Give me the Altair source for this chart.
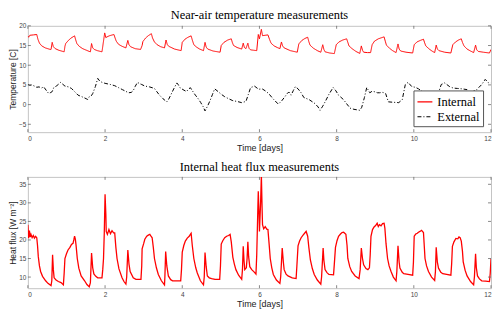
import altair as alt
import pandas as pd

# ---------------- data ----------------
days_int = [0.00, 0.02, 0.05, 0.15, 0.23, 0.26, 0.30, 0.36, 0.45, 0.58, 0.60, 0.63, 0.66, 0.71, 0.80, 0.94,
            0.96, 0.98, 1.05, 1.12, 1.21, 1.24, 1.27, 1.33, 1.42, 1.59, 1.62, 1.65, 1.68, 1.72, 1.80, 1.92,
            1.99, 2.02, 2.05, 2.12, 2.23, 2.26, 2.29, 2.35, 2.44, 2.54, 2.59, 2.62, 2.66, 2.78, 2.92,
            2.96, 2.98, 3.05, 3.12, 3.20, 3.23, 3.28, 3.35, 3.44, 3.54, 3.58, 3.61, 3.65, 3.80, 3.97,
            4.00, 4.07, 4.15, 4.23, 4.26, 4.30, 4.37, 4.45, 4.55, 4.59, 4.62, 4.66, 4.80, 4.98,
            5.01, 5.08, 5.18, 5.27, 5.30, 5.33, 5.42, 5.54, 5.58, 5.61, 5.65, 5.70, 5.73, 5.77, 5.85, 5.93,
            5.97, 6.00, 6.05, 6.08, 6.15, 6.22, 6.26, 6.30, 6.38, 6.46, 6.53, 6.57, 6.60, 6.64, 6.80, 6.98,
            7.02, 7.10, 7.18, 7.25, 7.28, 7.31, 7.40, 7.50, 7.59, 7.64, 7.67, 7.70, 7.82, 7.94,
            7.99, 8.06, 8.16, 8.26, 8.29, 8.32, 8.40, 8.50, 8.60, 8.64, 8.67, 8.70, 8.80, 8.88,
            8.92, 8.98, 9.08, 9.23, 9.26, 9.29, 9.37, 9.45, 9.54, 9.59, 9.62, 9.66, 9.80, 9.97,
            10.01, 10.08, 10.17, 10.25, 10.28, 10.31, 10.40, 10.47, 10.54, 10.58, 10.61, 10.65, 10.80, 10.96,
            11.01, 11.08, 11.16, 11.23, 11.26, 11.30, 11.38, 11.47, 11.55, 11.60, 11.63, 11.67, 11.80, 11.96,
            12.00]
temp_int = [17.4, 17.1, 17.6, 17.7, 17.8, 16.6, 15.6, 14.9, 14.4, 14.0, 14.0, 15.8, 14.7, 14.2, 13.8, 13.4,
            14.8, 15.5, 16.3, 16.9, 17.45, 16.4, 15.5, 14.8, 14.2, 13.5, 13.4, 15.5, 14.4, 14.0, 13.7, 13.4,
            18.2, 17.0, 17.2, 17.5, 17.8, 16.9, 16.1, 15.3, 14.8, 14.4, 16.3, 15.2, 14.7, 14.2, 14.0,
            15.0, 16.0, 16.9, 17.5, 18.0, 16.9, 15.9, 15.2, 14.7, 14.4, 16.4, 15.3, 14.8, 14.1, 13.7,
            15.8, 16.6, 17.1, 17.45, 16.4, 15.2, 14.6, 14.1, 13.7, 15.8, 14.6, 14.1, 13.6, 13.3,
            15.0, 15.8, 16.4, 16.7, 15.7, 15.0, 14.5, 14.1, 15.6, 14.5, 14.2, 15.6, 14.3, 13.9, 13.8, 13.7,
            17.8, 16.7, 19.1, 17.5, 17.6, 17.7, 16.6, 15.6, 14.9, 14.5, 14.2, 15.9, 14.9, 14.4, 13.7, 13.3,
            15.4, 16.3, 16.8, 17.1, 16.0, 15.1, 14.3, 13.7, 13.3, 15.2, 14.0, 13.4, 13.1, 12.95,
            15.2, 15.9, 16.4, 16.7, 15.8, 14.9, 14.2, 13.5, 13.0, 14.9, 13.8, 13.3, 13.2, 13.2,
            15.2, 16.1, 16.7, 17.2, 16.1, 15.1, 14.3, 13.7, 13.2, 15.4, 14.1, 13.6, 13.3, 13.1,
            15.2, 15.9, 16.3, 16.6, 15.7, 14.9, 14.1, 13.6, 13.2, 15.1, 14.1, 13.7, 13.3, 13.1,
            15.2, 15.9, 16.4, 16.7, 15.8, 14.9, 14.1, 13.6, 13.2, 15.1, 13.9, 13.5, 13.3, 13.1,
            14.0]

days_ext = [0.00, 0.05, 0.10, 0.17, 0.23, 0.29, 0.35, 0.41, 0.47, 0.54, 0.58, 0.63, 0.67, 0.75, 0.85, 0.90,
            0.96, 1.05, 1.13, 1.20, 1.30, 1.40, 1.51, 1.55, 1.59, 1.64, 1.68, 1.75, 1.81, 1.86, 1.92, 2.00,
            2.14, 2.25, 2.35, 2.45, 2.61, 2.68, 2.73, 2.78, 2.84, 2.90, 2.95, 3.03, 3.15, 3.28, 3.34, 3.41,
            3.50, 3.60, 3.65, 3.70, 3.78, 3.86, 3.90, 3.94, 4.02, 4.11, 4.16, 4.21, 4.27, 4.34, 4.42, 4.48,
            4.54, 4.59, 4.66, 4.72, 4.78, 4.84, 4.93, 5.00, 5.10, 5.20, 5.31, 5.42, 5.54, 5.65, 5.71, 5.77,
            5.87, 5.98, 6.07, 6.15, 6.24, 6.35, 6.49, 6.58, 6.66, 6.72, 6.76, 6.82, 6.88, 6.93, 7.00, 7.08,
            7.15, 7.29, 7.44, 7.52, 7.57, 7.64, 7.71, 7.80, 7.91, 7.98, 8.05, 8.18, 8.26, 8.35, 8.45, 8.60,
            8.65, 8.72, 8.78, 8.86, 8.92, 8.97, 9.06, 9.11, 9.20, 9.27, 9.34, 9.45, 9.61, 9.70, 9.78, 9.85,
            9.95, 10.04, 10.12, 10.20, 10.29, 10.40, 10.50, 10.62, 10.71, 10.80, 10.93, 11.02, 11.13, 11.25,
            11.38, 11.46, 11.55, 11.63, 11.76, 11.85, 11.94, 12.00]
temp_ext = [5.1, 4.9, 5.0, 4.7, 4.4, 4.5, 4.2, 4.5, 3.7, 2.8, 3.0, 3.3, 4.3, 4.8, 5.65, 5.2,
            4.7, 4.5, 4.1, 3.4, 2.4, 2.0, 1.5, 1.3, 2.0, 2.2, 2.8, 4.6, 6.65, 6.0, 5.65, 5.4,
            5.1, 4.8, 4.3, 3.8, 3.0, 3.1, 3.55, 4.6, 5.65, 5.3, 5.1, 4.7, 4.5, 4.1, 3.3, 2.4,
            1.5, 0.7, 1.4, 2.4, 4.0, 5.5, 5.0, 4.3, 3.8, 3.3, 3.9, 4.3, 3.4, 2.4, 1.4, 0.5,
            -0.5, -1.6, -0.3, 1.0, 2.5, 4.0, 3.3, 2.7, 2.0, 1.5, 1.0, 0.8, 0.5, 0.8, 2.5, 4.3,
            4.7, 3.9, 4.0, 3.5, 2.8, 1.5, 0.1, 1.0, 2.0, 2.8, 3.2, 2.4, 3.6, 4.55, 4.0, 3.0,
            1.8, 1.25, 0.25, -0.6, -1.45, -0.4, 0.85, 2.6, 4.35, 3.5, 2.4, 1.25, 0.2, -0.9, -1.2, -1.45,
            -0.7, 1.8, 4.35, 3.0, 3.4, 3.3, 3.0, 3.0, 3.1, 2.8, 0.7, 0.6, 0.5, 1.25, 5.1, 5.65,
            4.55, 4.4, 4.0, 3.5, 2.8, 1.3, 1.6, 2.4, 5.1, 5.5, 4.55, 4.2, 4.1, 4.0,
            3.8, 3.0, 3.4, 3.8, 5.1, 6.4, 5.5, 5.5]

days_flux = [0.00, 0.02, 0.04, 0.06, 0.08, 0.11, 0.14, 0.17, 0.20, 0.23, 0.25, 0.27, 0.30, 0.33, 0.38, 0.46,
             0.52, 0.60, 0.62, 0.64, 0.66, 0.68, 0.73, 0.79, 0.86, 0.92, 0.94, 0.96, 1.00, 1.04, 1.09, 1.13,
             1.17, 1.19, 1.21, 1.23, 1.25, 1.28, 1.32, 1.38, 1.47, 1.53, 1.59, 1.62, 1.65, 1.68, 1.71, 1.76,
             1.81, 1.92, 1.94, 1.96, 1.98, 2.00, 2.02, 2.03, 2.06, 2.10, 2.14, 2.18, 2.22, 2.25, 2.28, 2.31,
             2.36, 2.44, 2.49, 2.54, 2.56, 2.59, 2.62, 2.65, 2.73, 2.80, 2.93, 2.95, 2.96, 3.00, 3.03, 3.08,
             3.12, 3.16, 3.19, 3.22, 3.25, 3.28, 3.33, 3.38, 3.46, 3.54, 3.55, 3.57, 3.60, 3.64, 3.70, 3.75,
             3.85, 3.96, 3.98, 4.00, 4.04, 4.08, 4.13, 4.18, 4.21, 4.23, 4.26, 4.30, 4.35, 4.39, 4.47, 4.55,
             4.57, 4.59, 4.62, 4.65, 4.70, 4.76, 4.85, 4.97, 4.99, 5.01, 5.05, 5.10, 5.15, 5.20, 5.24, 5.27,
             5.31, 5.35, 5.39, 5.46, 5.54, 5.56, 5.58, 5.60, 5.62, 5.66, 5.68, 5.70, 5.72, 5.75, 5.80, 5.86,
             5.91, 5.93, 5.96, 5.97, 5.99, 6.00, 6.03, 6.05, 6.07, 6.08, 6.11, 6.15, 6.19, 6.22, 6.25, 6.28,
             6.32, 6.36, 6.44, 6.53, 6.55, 6.59, 6.62, 6.64, 6.69, 6.74, 6.85, 6.95, 6.97, 7.00, 7.04, 7.08,
             7.13, 7.17, 7.21, 7.25, 7.28, 7.32, 7.37, 7.42, 7.50, 7.59, 7.61, 7.65, 7.67, 7.70, 7.75, 7.80,
             7.92, 7.94, 7.97, 8.01, 8.05, 8.10, 8.14, 8.18, 8.21, 8.24, 8.27, 8.29, 8.34, 8.39, 8.48, 8.58,
             8.61, 8.64, 8.67, 8.70, 8.76, 8.81, 8.85, 8.87, 8.89, 8.93, 8.97, 9.01, 9.05, 9.08, 9.11, 9.15,
             9.19, 9.23, 9.25, 9.28, 9.32, 9.36, 9.41, 9.47, 9.54, 9.56, 9.59, 9.62, 9.64, 9.70, 9.74, 9.85,
             9.97, 9.99, 10.01, 10.05, 10.09, 10.12, 10.16, 10.20, 10.25, 10.27, 10.29, 10.33, 10.38, 10.46,
             10.54, 10.56, 10.58, 10.61, 10.64, 10.70, 10.75, 10.85, 10.96, 10.98, 11.00, 11.04, 11.09, 11.14,
             11.17, 11.20, 11.23, 11.26, 11.28, 11.33, 11.38, 11.47, 11.55, 11.57, 11.60, 11.62, 11.65, 11.70,
             11.76, 11.86, 11.96, 11.98, 12.00]
flux = [24.1, 20.5, 22.5, 20.8, 21.5, 20.6, 21.2, 20.5, 21.0, 20.6, 18.5, 15.5, 13.0, 11.5, 10.2, 9.0,
        8.3, 7.7, 9.0, 16.0, 12.0, 9.8, 9.2, 8.8, 8.5, 7.9, 11.0, 15.0, 16.3, 17.3, 18.0, 18.8,
        19.1, 20.0, 21.0, 20.2, 18.4, 15.0, 12.4, 10.3, 9.0, 8.0, 7.4, 8.5, 16.5, 12.5, 10.85, 10.2,
        9.8, 9.8, 12.0, 15.0, 22.0, 32.3, 27.0, 22.3, 21.5, 22.8, 21.7, 22.5, 21.9, 21.9, 18.0, 15.0,
        12.2, 9.8, 8.8, 8.1, 10.0, 17.3, 13.5, 11.5, 9.8, 9.4, 9.4, 13.0, 17.6, 19.0, 20.2, 21.0,
        21.3, 21.5, 21.0, 20.6, 18.0, 15.0, 12.5, 10.7, 9.0, 7.9, 10.0, 16.9, 13.0, 10.3, 9.3, 9.0,
        9.0, 9.0, 12.0, 16.7, 18.5, 19.7, 20.5, 21.0, 21.5, 21.8, 18.5, 15.0, 12.5, 11.1, 9.0, 7.9,
        10.0, 16.6, 12.8, 10.3, 9.8, 9.6, 9.4, 9.4, 13.0, 18.9, 19.8, 20.6, 21.0, 21.2, 21.5, 19.5,
        15.4, 13.5, 12.0, 10.5, 9.4, 12.0, 18.3, 14.5, 12.0, 12.5, 15.0, 19.5, 15.5, 12.8, 12.0, 11.4,
        10.8, 16.0, 29.0, 33.1, 27.0, 22.3, 30.0, 37.5, 28.0, 24.1, 23.0, 23.6, 22.9, 22.8, 19.0, 15.0,
        12.5, 10.7, 9.2, 8.3, 10.0, 17.8, 14.0, 12.0, 10.8, 10.3, 9.8, 9.6, 13.0, 18.4, 19.7, 20.6,
        21.3, 21.8, 22.3, 21.0, 18.0, 14.6, 12.3, 10.7, 9.2, 8.1, 10.0, 17.8, 14.5, 12.0, 11.2, 10.7,
        10.6, 13.5, 18.0, 19.8, 21.0, 21.6, 22.0, 22.1, 21.8, 21.5, 18.5, 15.0, 12.8, 11.5, 10.3, 9.6,
        12.0, 17.8, 15.0, 13.3, 12.3, 12.0, 12.5, 16.0, 21.0, 22.8, 23.5, 23.9, 24.5, 23.6, 24.1, 23.8,
        24.4, 24.5, 23.2, 19.0, 15.0, 13.0, 11.5, 10.0, 9.0, 11.5, 18.4, 14.0, 12.4, 11.3, 10.9, 10.7,
        10.5, 14.0, 21.0, 21.6, 21.8, 22.1, 22.3, 22.6, 22.0, 18.5, 15.0, 13.0, 11.5, 10.0,
        9.1, 11.5, 18.0, 14.0, 12.4, 11.3, 10.9, 10.7, 10.5, 13.5, 18.3, 19.5, 20.4, 20.3,
        20.8, 20.6, 19.7, 17.0, 14.1, 11.8, 10.3, 8.8, 7.9, 10.0, 16.3, 12.5, 10.3, 9.5,
        9.0, 8.9, 8.8, 11.0, 15.0]

series_names = ["Internal", "External"]
series_colors = ["#ff0000", "#000000"]
x_ticks = [0, 2, 4, 6, 8, 10, 12]
y_ticks_temp = [-5, 0, 5, 10, 15, 20]
y_ticks_flux = [10, 15, 20, 25, 30, 35]

# ---------------- tables ----------------
df_temp = pd.concat([
    pd.DataFrame({"t": days_int, "v": temp_int, "series": "Internal"}),
    pd.DataFrame({"t": days_ext, "v": temp_ext, "series": "External"}),
], ignore_index=True)
df_flux = pd.DataFrame({"t": days_flux, "v": flux})
df_xt = pd.DataFrame({"t": x_ticks})
df_yt1 = pd.DataFrame({"v": y_ticks_temp})
df_yt2 = pd.DataFrame({"v": y_ticks_flux})

W = 466
H1 = 107
H2 = 112
TICK = 3
TICK_COLOR = "#6a6a6a"

xs = alt.Scale(domain=[0, 12], nice=False, zero=False)
ys1 = alt.Scale(domain=[-7, 20], nice=False, zero=False)
ys2 = alt.Scale(domain=[7, 37], nice=False, zero=False)
xaxis = alt.Axis(values=x_ticks, title="Time [days]", format="d")
yaxis1 = alt.Axis(values=y_ticks_temp, title="Temperature [C]", format="d")
yaxis2 = alt.Axis(values=y_ticks_flux, title="Heat flux [W m⁻²]", format="d")


def ticks(yscale, yaxis, df_y, H):
    X = alt.X("t:Q", scale=xs, axis=xaxis)
    Y = alt.Y("v:Q", scale=yscale, axis=yaxis)
    rule = alt.Chart(df_xt).mark_rule(color=TICK_COLOR, strokeWidth=0.8)
    ruley = alt.Chart(df_y).mark_rule(color=TICK_COLOR, strokeWidth=0.8)
    return [
        rule.encode(x=X, y=alt.value(H), y2=alt.value(H - TICK)),
        rule.encode(x=X, y=alt.value(0), y2=alt.value(TICK)),
        ruley.encode(y=Y, x=alt.value(0), x2=alt.value(TICK)),
        ruley.encode(y=Y, x=alt.value(W - TICK), x2=alt.value(W)),
    ]


legend = alt.Legend(
    title=None, orient="none", legendX=388, legendY=65,
    fillColor="white", strokeColor="#555555", padding=3,
    labelFont="Liberation Serif", labelFontSize=12.5, labelColor="#000000",
    labelOffset=4, symbolType="stroke", symbolSize=225, symbolStrokeWidth=1.2,
    rowPadding=0, cornerRadius=0, labelLimit=0,
)

lines_top = alt.Chart(df_temp).mark_line(strokeWidth=1, clip=True).encode(
    x=alt.X("t:Q", scale=xs, axis=xaxis),
    y=alt.Y("v:Q", scale=ys1, axis=yaxis1),
    color=alt.Color("series:N", scale=alt.Scale(domain=series_names, range=series_colors), legend=legend),
    strokeDash=alt.StrokeDash("series:N", scale=alt.Scale(domain=series_names, range=[[1, 0], [4, 2, 1, 2]]), legend=legend),
    order=alt.Order("t:Q"),
)

top = alt.layer(lines_top, *ticks(ys1, yaxis1, df_yt1, H1)).properties(
    width=W, height=H1,
    title=alt.TitleParams("Near-air temperature measurements", offset=1),
)

lines_bot = alt.Chart(df_flux).mark_line(strokeWidth=1.3, clip=True, color="#ff0000").encode(
    x=alt.X("t:Q", scale=xs, axis=xaxis),
    y=alt.Y("v:Q", scale=ys2, axis=yaxis2),
    order=alt.Order("t:Q"),
)
bottom = alt.layer(lines_bot, *ticks(ys2, yaxis2, df_yt2, H2)).properties(
    width=W, height=H2,
    title=alt.TitleParams("Internal heat flux measurements", offset=3),
)

chart = alt.vconcat(top, bottom, spacing=7).configure_view(
    stroke="#c4c4c4", strokeWidth=1
).configure_axis(
    grid=False, domain=False, ticks=False,
    labelFont="Liberation Sans", labelFontSize=6.5, labelColor="#444444", labelPadding=3,
    titleFont="Liberation Sans", titleFontSize=9, titleFontWeight="normal", titleColor="#222222",
    titlePadding=2,
).configure_axisY(titleFontSize=8.5, titlePadding=1, labelPadding=2).configure_title(
    font="Liberation Serif", fontSize=12.5, fontWeight="normal", color="#000000"
).properties(padding={"left": 0, "top": 0, "right": 0, "bottom": 0})

chart.save("out.html", embed_options={"renderer": "svg", "actions": False})
